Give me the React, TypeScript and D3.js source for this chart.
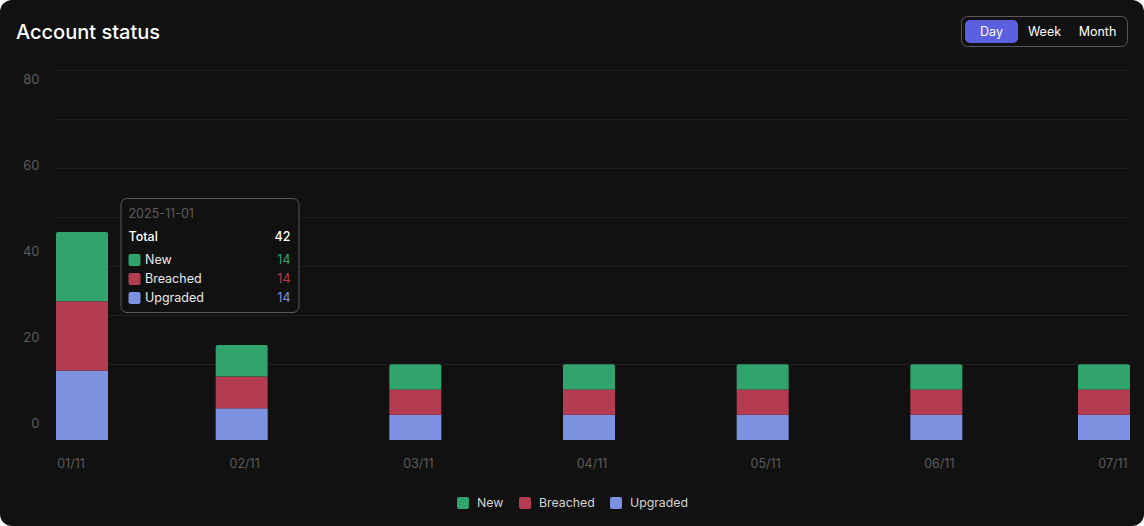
import React from "react";
import * as d3 from "d3";

const dates = ["2025-11-01", "2025-11-02", "2025-11-03", "2025-11-04", "2025-11-05", "2025-11-06", "2025-11-07"];
const newVals = [14, 6.4, 5.1, 5.1, 5.1, 5.1, 5.1];
const breachedVals = [14, 6.4, 5.1, 5.1, 5.1, 5.1, 5.1];
const upgradedVals = [14, 6.4, 5.1, 5.1, 5.1, 5.1, 5.1];
const yTicks = [0, 20, 40, 60, 80];
const ranges = ["Day", "Week", "Month"];
const seriesNames = ["Upgraded", "Breached", "New"];
const seriesColors: Record<string, string> = { New: "#30a46c", Breached: "#b43c51", Upgraded: "#7c91e0" };
const legendOrder = ["New", "Breached", "Upgraded"];

const W = 1144;
const H = 526;
const FONT = "Inter, 'Noto Sans', sans-serif";

export default function App() {
  const parse = d3.timeParse("%Y-%m-%d");
  const fmt = d3.timeFormat("%d/%m");
  const labels = dates.map((d) => fmt(parse(d) as Date));

  const plotL = 56;
  const plotR = 1130;
  const barW = 52;
  const x = d3.scalePoint<string>().domain(dates).range([71, 1113]);
  const y = d3.scaleLinear().domain([0, 80]).range([440, 43.8]);
  const yLab = d3.scaleLinear().domain([0, 80]).range([423.3, 79]);
  const grid = d3.scaleLinear().domain([0, 7]).range([413.5, 70.5]);

  const rows = dates.map((d, i) => ({ date: d, Upgraded: upgradedVals[i], Breached: breachedVals[i], New: newVals[i] }));
  const stack = d3.stack<any>().keys(seriesNames)(rows);

  const barX = (d: string) => {
    const c = (x(d) as number) - 3;
    return Math.min(Math.max(c - barW / 2, plotL), plotR - barW);
  };

  const topRounded = (x0: number, y0: number, w: number, h: number, r: number) =>
    `M${x0},${y0 + h}V${y0 + r}Q${x0},${y0} ${x0 + r},${y0}H${x0 + w - r}Q${x0 + w},${y0} ${x0 + w},${y0 + r}V${y0 + h}Z`;

  const tg = { x: 961.5, y: 16.5, w: 166, h: 30 };
  const btnCenters = [991.5, 1044.5, 1097.5];

  const ti = 0;
  const total = newVals[ti] + breachedVals[ti] + upgradedVals[ti];
  const tipX = barX(dates[ti]) + barW + 13;
  const tipY = 198.5;
  const tipW = 178;
  const tipH = 114;
  const tipVals: Record<string, number> = { New: newVals[ti], Breached: breachedVals[ti], Upgraded: upgradedVals[ti] };

  const legendX = [457, 519, 610];

  return (
    <>
      <style>{`body{margin:0;background:#ffffff;}`}</style>
      <svg width={W} height={H} style={{ display: "block", fontFamily: FONT }}>
        <rect x={0} y={0} width={W} height={H} rx={12} fill="#111111" />
        <text x={16} y={39} fill="#ffffff" fontSize={20} fontWeight={500}>Account status</text>

        <rect x={tg.x} y={tg.y} width={tg.w} height={tg.h} rx={6} fill="none" stroke="#5a5a5a" strokeWidth={1} />
        <rect x={965} y={20} width={53} height={23} rx={5} fill="#5b5fe0" />
        {ranges.map((r, i) => (
          <text key={r} x={btnCenters[i]} y={36} textAnchor="middle" fill="#ffffff" fontSize={12.5}>{r}</text>
        ))}

        {d3.range(1, 8).map((i) => (
          <line key={i} x1={plotL} x2={plotR} y1={grid(i)} y2={grid(i)} stroke="#1f1f1f" strokeWidth={1} />
        ))}

        {yTicks.map((t) => (
          <text key={t} x={39.5} y={yLab(t)} dy="0.35em" textAnchor="end" fill="#5c5c5c" fontSize={13}>{t}</text>
        ))}

        {stack.map((s) => (
          <g key={s.key} fill={seriesColors[s.key]}>
            {s.map((seg, i) => {
              const x0 = barX(dates[i]);
              const y0 = y(seg[1]);
              const h = y(seg[0]) - y(seg[1]);
              return s.key === "New" ? (
                <path key={i} d={topRounded(x0, y0, barW, h, 2)} />
              ) : (
                <rect key={i} x={x0} y={y0} width={barW} height={h} />
              );
            })}
          </g>
        ))}

        {dates.map((d, i) => (
          <text key={d} x={x(d)} y={464} dy="0.35em" textAnchor="middle" fill="#5c5c5c" fontSize={12.5}>{labels[i]}</text>
        ))}

        <g>
          <rect x={tipX} y={tipY} width={tipW} height={tipH} rx={6} fill="#111111" stroke="#5a5a5a" strokeWidth={1} />
          <text x={tipX + 7.5} y={214} dy="0.35em" fill="#5c5c5c" fontSize={12.5}>{dates[ti]}</text>
          <text x={tipX + 7.5} y={237} dy="0.35em" fill="#ffffff" fontSize={12.5} fontWeight={500}>Total</text>
          <text x={tipX + tipW - 8.5} y={237} dy="0.35em" textAnchor="end" fill="#ffffff" fontSize={12.5} fontWeight={500}>{total}</text>
          {legendOrder.map((k, i) => {
            const cy = 260 + i * 19;
            return (
              <g key={k}>
                <rect x={tipX + 7.5} y={cy - 6} width={12} height={12} rx={2} fill={seriesColors[k]} />
                <text x={tipX + 24} y={cy} dy="0.35em" fill="#e8e8e8" fontSize={12.5}>{k}</text>
                <text x={tipX + tipW - 8.5} y={cy} dy="0.35em" textAnchor="end" fill={seriesColors[k]} fontSize={12.5}>{tipVals[k]}</text>
              </g>
            );
          })}
        </g>

        {legendOrder.map((k, i) => (
          <g key={k}>
            <rect x={legendX[i]} y={497} width={12} height={12} rx={2} fill={seriesColors[k]} />
            <text x={legendX[i] + 20} y={503} dy="0.35em" fill="#d4d4d4" fontSize={12.3}>{k}</text>
          </g>
        ))}
      </svg>
    </>
  );
}
